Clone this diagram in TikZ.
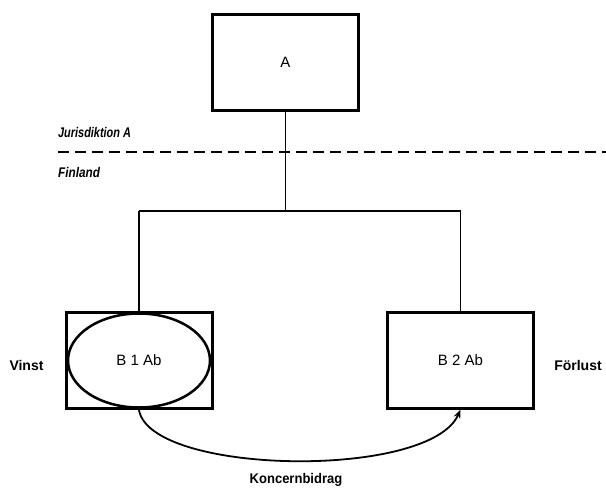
\documentclass[tikz,border=0pt]{standalone}
\usepackage{fontspec}
\setmainfont{Liberation Sans}
\usetikzlibrary{shapes.geometric,arrows.meta}
\begin{document}
\begin{tikzpicture}[x=1pt,y=-1pt,
  entity/.style={draw,line width=3pt,minimum width=146pt,minimum height=96pt,inner sep=0pt,font=\fontsize{15}{17}\selectfont},
  link/.style={line width=1.8pt},
  sidelabel/.style={font=\fontsize{14}{16}\selectfont\bfseries,inner sep=0pt},
  zonelabel/.style={font=\fontsize{14}{16}\selectfont\bfseries\itshape,inner sep=0pt,anchor=west}]
\useasboundingbox (0,0) rectangle (606,493);
\fill[white] (0,0) rectangle (606,493);

% parent company and the two subsidiaries
\node[entity] (A) at (285.5,62) {A};
\node[entity] (B1) at (139,360.5) {};
\node[draw,ellipse,line width=2.5pt,minimum width=142pt,minimum height=94pt,inner sep=0pt,
      font=\fontsize{15}{17}\selectfont] (B1e) at (139,360.5) {B 1 Ab};
\node[entity] (B2) at (460.5,360) {B 2 Ab};

% ownership tree
\coordinate (fork) at (A.south |- 0,211);
\draw[link] (A.south) -- (fork);
\draw[link] (fork -| B1.north) -- (fork -| B2.north);
\draw[link] (fork -| B1.north) -- (B1.north);
\draw[link] (fork -| B2.north) -- (B2.north);

% jurisdiction border
\coordinate (borderL) at (58,152);
\coordinate (borderR) at (606,152);
\draw[line width=1.8pt,dash pattern=on 11pt off 6pt] (borderL) -- (borderR);
\node[zonelabel,xscale=0.78] (jur) at (58,132) {Jurisdiktion A};
\node[zonelabel,xscale=0.84] (fin) at (58,172) {Finland};

% profit / loss labels
\node[sidelabel] (vinst) at (26.5,365) {Vinst};
\node[sidelabel] (forlust) at (578,365) {Förlust};

% group contribution
\draw[line width=1.8pt,-{Stealth[length=9pt,width=7pt]}]
  (B1.south) .. controls (150,475) and (430,480) .. (B2.south);
\node[sidelabel,xscale=0.93] (kb) at (296,480) {Koncernbidrag};
\end{tikzpicture}
\end{document}
